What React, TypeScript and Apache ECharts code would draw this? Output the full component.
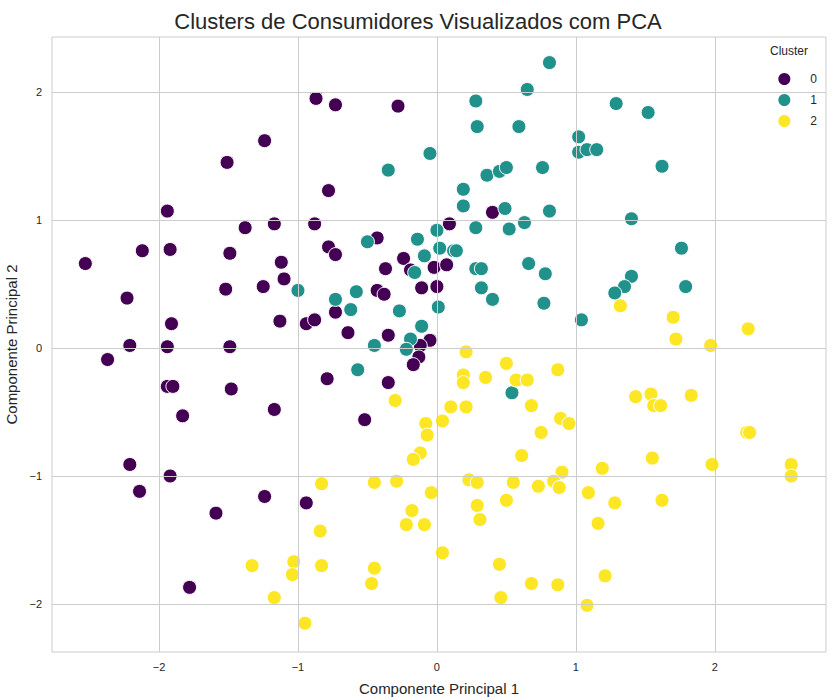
import React, { useEffect, useRef } from "react";
import * as echarts from "echarts";

const clusterNames = ["0", "1", "2"];
const colors = ["#440154", "#21918c", "#fde725"];
const xTicks = [-2, -1, 0, 1, 2];
const yTicks = [-2, -1, 0, 1, 2];

const cluster0: number[][] = [
  [-2.53, 0.66], [-2.37, -0.09], [-2.23, 0.39], [-2.21, 0.02], [-2.12, 0.76], [-2.21, -0.91],
  [-2.14, -1.12], [-1.94, 1.07], [-1.94, 0.01], [-1.92, 0.77], [-1.91, 0.19], [-1.94, -0.3],
  [-1.9, -0.3], [-1.92, -1.0], [-1.83, -0.53], [-1.78, -1.87], [-1.59, -1.29], [-1.51, 1.45],
  [-1.52, 0.46], [-1.49, 0.74], [-1.49, 0.01], [-1.48, -0.32], [-1.38, 0.94], [-1.25, 0.48],
  [-1.24, 1.62], [-1.24, -1.16], [-1.17, 0.97], [-1.17, -0.48], [-1.13, 0.21], [-1.12, 0.67],
  [-1.1, 0.54], [-0.94, -1.21], [-0.94, 0.19], [-0.88, 0.22], [-0.87, 1.95], [-0.88, 0.97],
  [-0.78, 1.23], [-0.78, 0.79], [-0.73, 0.73], [-0.73, 1.9], [-0.79, -0.24], [-0.73, 0.28],
  [-0.64, 0.12], [-0.52, -0.56], [-0.43, 0.86], [-0.43, 0.45], [-0.38, 0.42], [-0.37, 0.62],
  [-0.35, 0.1], [-0.35, -0.27], [-0.28, 1.89], [-0.24, 0.7], [-0.19, 0.61], [-0.11, 0.47],
  [-0.05, 0.06], [-0.12, 0.02], [-0.13, -0.07], [-0.17, -0.13], [0.0, 0.48], [-0.02, 0.63],
  [0.07, 0.65], [0.09, 0.97], [0.4, 1.06],
];

const cluster1: number[][] = [
  [0.81, 2.23], [0.65, 2.02], [0.28, 1.93], [1.29, 1.91], [1.52, 1.84], [0.29, 1.73],
  [0.59, 1.73], [1.02, 1.65], [1.02, 1.53], [1.08, 1.55], [1.15, 1.55], [-0.05, 1.52],
  [-0.35, 1.39], [0.36, 1.35], [0.45, 1.38], [0.5, 1.41], [0.76, 1.41], [1.62, 1.42],
  [0.19, 1.24], [0.19, 1.11], [0.49, 1.09], [0.81, 1.07], [1.4, 1.01], [0.63, 0.98],
  [0.52, 0.93], [0.28, 0.94], [0.0, 0.92], [-0.14, 0.85], [-0.5, 0.83], [0.02, 0.78],
  [0.12, 0.76], [0.14, 0.76], [-0.09, 0.72], [1.76, 0.78], [0.66, 0.66], [0.78, 0.58],
  [0.28, 0.62], [0.32, 0.62], [-0.16, 0.59], [1.4, 0.56], [1.35, 0.48], [1.28, 0.43],
  [1.79, 0.48], [0.32, 0.47], [0.4, 0.38], [0.77, 0.35], [-0.58, 0.44], [-0.73, 0.38],
  [-0.62, 0.3], [-0.27, 0.29], [0.01, 0.32], [1.04, 0.22], [-0.11, 0.17], [-0.19, 0.07],
  [-0.22, -0.01], [-0.45, 0.02], [-0.57, -0.17], [-1.0, 0.45], [0.54, -0.35],
];

const cluster2: number[][] = [
  [1.32, 0.33], [1.7, 0.24], [1.72, 0.07], [2.24, 0.15], [1.97, 0.02], [0.21, -0.03],
  [0.5, -0.12], [0.87, -0.17], [0.19, -0.21], [0.19, -0.27], [0.35, -0.23], [0.57, -0.25],
  [0.65, -0.25], [1.43, -0.38], [1.54, -0.36], [1.56, -0.45], [1.61, -0.45], [1.83, -0.37],
  [-0.3, -0.41], [0.1, -0.46], [0.21, -0.46], [0.68, -0.45], [0.89, -0.55], [0.95, -0.59],
  [-0.08, -0.59], [0.04, -0.57], [-0.07, -0.68], [0.75, -0.66], [2.23, -0.66], [2.25, -0.66],
  [-0.12, -0.82], [-0.17, -0.87], [0.61, -0.84], [1.55, -0.86], [1.98, -0.91], [2.55, -0.91],
  [2.55, -1.0], [1.19, -0.94], [0.9, -0.97], [0.84, -1.04], [0.88, -1.09], [-0.29, -1.04],
  [0.23, -1.03], [0.29, -1.05], [0.55, -1.05], [0.73, -1.08], [-0.04, -1.13], [1.09, -1.13],
  [1.28, -1.21], [1.62, -1.19], [0.5, -1.19], [0.29, -1.23], [-0.18, -1.27], [0.31, -1.34],
  [-0.22, -1.38], [-0.09, -1.38], [1.16, -1.37], [0.04, -1.6], [0.45, -1.69], [1.21, -1.78],
  [0.68, -1.84], [0.87, -1.85], [0.46, -1.95], [1.08, -2.01], [-0.83, -1.06], [-0.45, -1.05],
  [-0.84, -1.43], [-1.33, -1.7], [-1.03, -1.67], [-1.04, -1.77], [-0.83, -1.7], [-0.45, -1.72],
  [-0.47, -1.84], [-1.17, -1.95], [-0.95, -2.15],
];

const fmt = (v: number) => (v < 0 ? "\u2212" + Math.abs(v) : String(v));
const FONT = "Liberation Sans";

export default function App() {
  const ref = useRef<HTMLDivElement>(null);
  useEffect(() => {
    const chart = echarts.init(ref.current!, null, { renderer: "svg" });
    const data = [cluster0, cluster1, cluster2];
    const gridLines = [
      ...xTicks.map((v) => ({ xAxis: v })),
      ...yTicks.map((v) => ({ yAxis: v })),
    ];
    chart.setOption({
      animation: false,
      backgroundColor: "#fff",
      textStyle: { fontFamily: FONT },
      title: {
        text: "Clusters de Consumidores Visualizados com PCA",
        left: "center",
        top: 5,
        textStyle: { fontSize: 22, fontWeight: "normal", color: "#262626", fontFamily: FONT },
      },
      graphic: [
        { type: "text", right: 28, top: 45, style: { text: "Cluster", fontSize: 12, fill: "#262626", fontFamily: FONT } },
      ],
      legend: {
        data: clusterNames,
        orient: "vertical",
        right: 14,
        top: 66,
        itemGap: 5,
        itemWidth: 14,
        itemHeight: 14,
        icon: "circle",
        textStyle: { fontSize: 12, color: "#262626", padding: [0, 0, 0, 14], fontFamily: FONT },
      },
      grid: {
        left: 52, right: 10, top: 37, bottom: 47,
        containLabel: false, outerBoundsMode: "none",
        show: true, borderColor: "#cccccc", borderWidth: 1,
      },
      xAxis: {
        type: "value",
        min: -2.77,
        max: 2.8,
        name: "Componente Principal 1",
        nameLocation: "middle",
        nameGap: 29,
        nameTextStyle: { fontSize: 15, color: "#262626", fontFamily: FONT },
        axisLine: { show: false },
        axisTick: { show: false, customValues: xTicks },
        splitLine: { show: false },
        axisLabel: { customValues: xTicks, formatter: fmt, fontSize: 11, color: "#262626", margin: 9, fontFamily: FONT },
      },
      yAxis: {
        type: "value",
        min: -2.375,
        max: 2.43,
        name: "Componente Principal 2",
        nameLocation: "middle",
        nameGap: 28,
        nameTextStyle: { fontSize: 15, color: "#262626", fontFamily: FONT },
        axisLine: { show: false },
        axisTick: { show: false, customValues: yTicks },
        splitLine: { show: false },
        axisLabel: { customValues: yTicks, formatter: fmt, fontSize: 11, color: "#262626", margin: 10, fontFamily: FONT },
      },
      series: [
        {
          type: "scatter",
          data: [],
          z: 0,
          silent: true,
          markLine: {
            silent: true,
            symbol: "none",
            label: { show: false },
            lineStyle: { color: "#cccccc", type: "solid", width: 1 },
            data: gridLines,
          },
        },
        ...data.map((d, i) => ({
          type: "scatter",
          name: clusterNames[i],
          data: d,
          symbolSize: 14,
          z: 2 + i,
          itemStyle: { color: colors[i], borderColor: "#fff", borderWidth: 1, opacity: 1 },
        })),
      ],
    });
    return () => chart.dispose();
  }, []);
  return <div ref={ref} style={{ position: "absolute", left: 0, top: 0, width: 836, height: 699 }} />;
}
